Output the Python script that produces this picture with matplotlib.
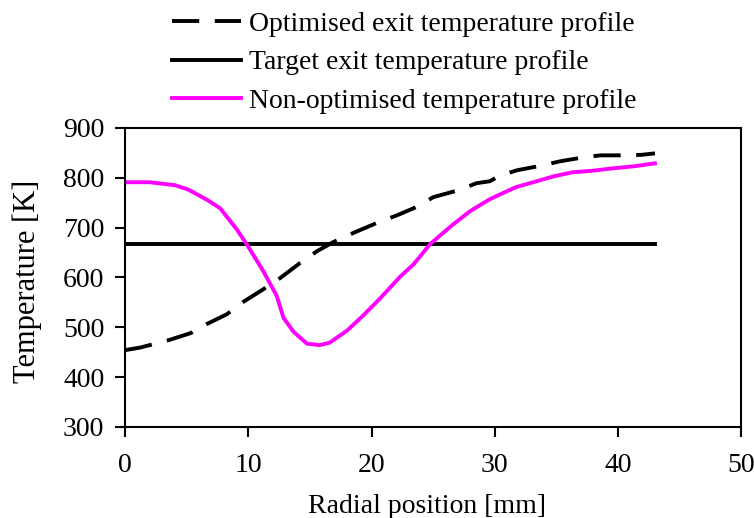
import numpy as np
import matplotlib.pyplot as plt

plt.rcParams["font.family"] = ["Liberation Serif", "DejaVu Serif"]

# Optimised exit temperature profile (dashed)
opt_x = [0.0, 1.2, 3.4, 5.3, 6.6, 8.25, 9.6, 11.2, 12.6, 14.2, 15.6, 16.9, 18.5,
         20.4, 22.1, 23.8, 25.0, 27.2, 28.5, 29.6, 30.4, 31.8, 33.7, 35.3, 37.2,
         38.6, 40.7, 41.9, 43.0]
opt_T = [454, 459, 473, 488, 506, 526, 551, 576, 599, 629, 653, 671, 689,
         709, 725, 743, 761, 776, 789, 793, 804, 815, 824, 833, 841,
         845, 845, 846, 849]

# Target exit temperature profile
target_x = [0.0, 43.0]
target_T = [667, 667]

# Non-optimised temperature profile
nonopt_x = [0.0, 2.0, 4.06, 5.14, 6.63, 7.7, 9.07, 9.88, 11.2, 12.3, 12.85, 13.66,
            14.75, 15.8, 16.6, 18.0, 19.3, 20.7, 22.3, 23.4, 24.76, 26.6, 28.0,
            29.6, 31.7, 34.8, 36.3, 37.9, 39.6, 41.3, 43.0]
nonopt_T = [791, 791, 785, 776, 756, 739, 696, 666, 613, 563, 519, 491,
            467, 464, 469, 493, 523, 558, 601, 626, 667, 706, 733,
            757, 781, 803, 811, 814, 819, 823, 829]

fig = plt.figure(figsize=(7.54, 5.18), dpi=100)
ax = fig.add_axes([0.166, 0.176, 0.817, 0.577])

ax.plot(opt_x, opt_T, color="black", lw=2.8, dashes=(7, 4),
        label="Optimised exit temperature profile")
ax.plot(target_x, target_T, color="black", lw=2.8,
        label="Target exit temperature profile")
ax.plot(nonopt_x, nonopt_T, color="#ff00ff", lw=2.8,
        label="Non-optimised temperature profile")

ax.set_xlim(0, 50)
ax.set_ylim(300, 900)
ax.set_xticks(np.arange(0, 51, 10))
ax.set_yticks(np.arange(300, 901, 100))
ax.tick_params(direction="out", length=7, width=1.5, labelsize=20)
ax.tick_params(axis="x", pad=12)
ax.tick_params(axis="y", pad=8)
for s in ax.spines.values():
    s.set_linewidth(1.5)

ax.set_xlabel("Radial position [mm]", fontsize=20)
ax.xaxis.set_label_coords(0.49, -0.225)
ax.set_ylabel("Temperature [K]", fontsize=22)
ax.yaxis.set_label_coords(-0.135, 0.485)

fig.legend(loc="upper left", bbox_to_anchor=(0.213, 1.0), frameon=False,
           fontsize=20, handlelength=2.5, handletextpad=0.3,
           labelspacing=0.48, borderaxespad=0)

fig.savefig("out.png", dpi=100)
